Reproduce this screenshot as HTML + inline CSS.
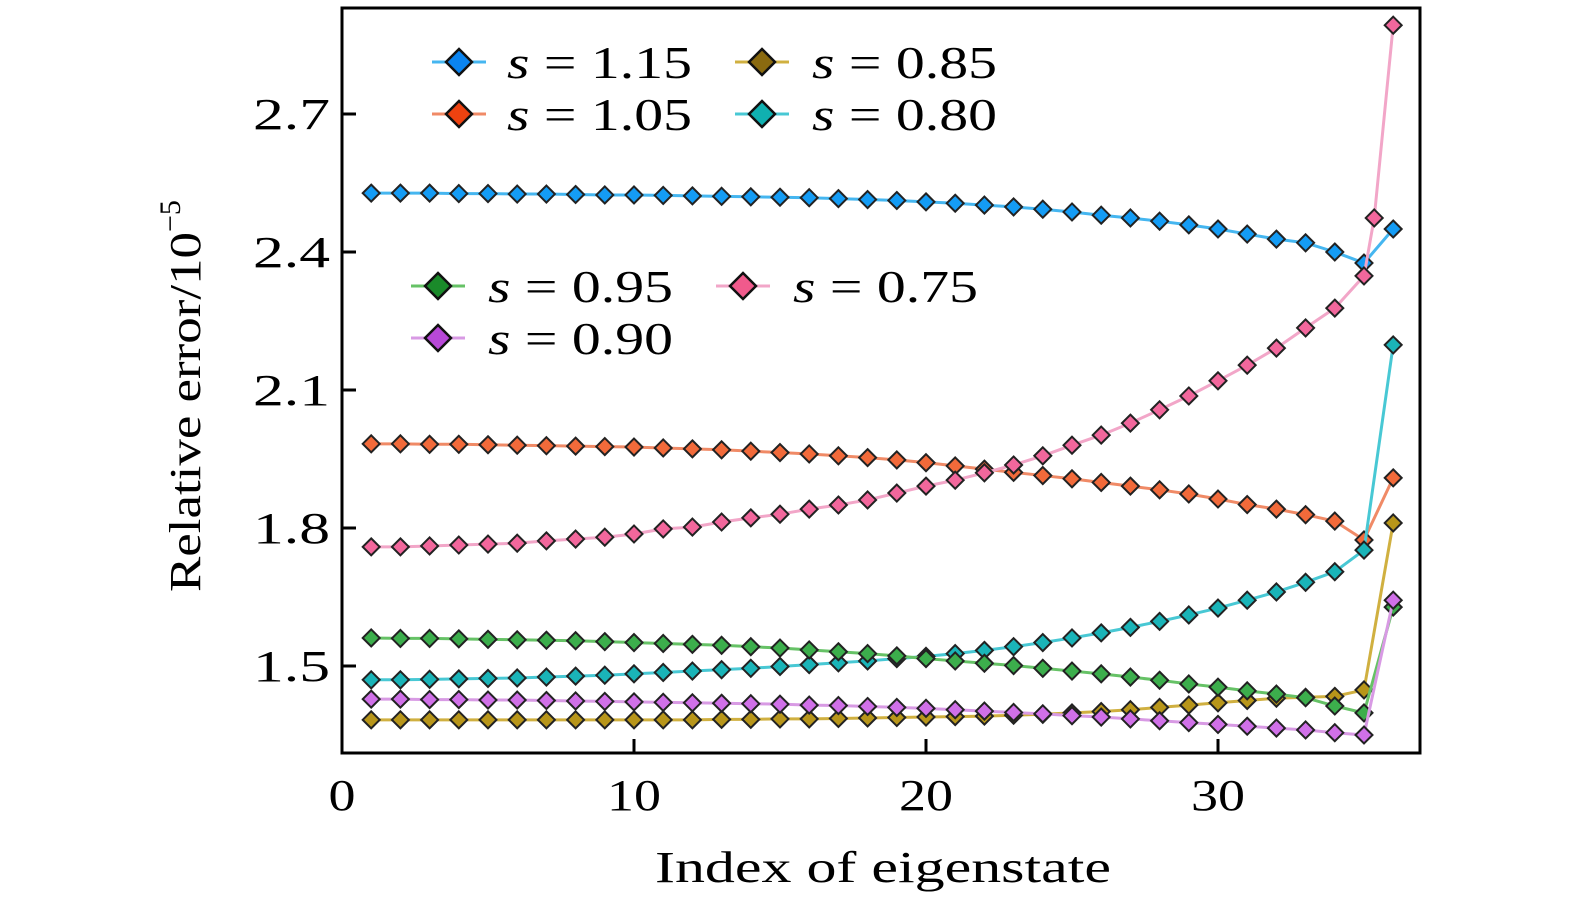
<!DOCTYPE html>
<html><head><meta charset="utf-8"><style>
html,body{margin:0;padding:0;background:#fff;}
svg{display:block;}
text{font-family:"Liberation Serif",serif;fill:#000;}
</style></head><body>
<svg id="chart" width="1575" height="906" xmlns="http://www.w3.org/2000/svg">
<g id="marks"></g>
<rect x="342" y="8" width="1078" height="745" fill="none" stroke="#000" stroke-width="3"/>
<g id="axes"></g>
<text x="655" y="882" font-size="44" textLength="456" lengthAdjust="spacingAndGlyphs">Index of eigenstate</text>
<text transform="translate(200,592) rotate(-90)" font-size="44"><tspan textLength="360" lengthAdjust="spacingAndGlyphs">Relative error/10</tspan><tspan dy="-20" font-size="30">−5</tspan></text>
<g id="legend"></g>
</svg>
<script>
const xTicks=[0,10,20,30];
const yTicks=[1.5,1.8,2.1,2.4,2.7];
const yTickLabels=["1.5","1.8","2.1","2.4","2.7"];
const idx=[1,2,3,4,5,6,7,8,9,10,11,12,13,14,15,16,17,18,19,20,21,22,23,24,25,26,27,28,29,30,31,32,33,34,35,36];
const idxPink=[1,2,3,4,5,6,7,8,9,10,11,12,13,14,15,16,17,18,19,20,21,22,23,24,25,26,27,28,29,30,31,32,33,34,35,35.35,36];
const s115=[2.528,2.528,2.528,2.527,2.527,2.526,2.526,2.525,2.524,2.524,2.523,2.522,2.521,2.520,2.519,2.518,2.516,2.514,2.512,2.509,2.506,2.502,2.498,2.493,2.487,2.480,2.474,2.467,2.459,2.450,2.439,2.428,2.420,2.400,2.376,2.450];
const s105=[1.983,1.983,1.982,1.982,1.981,1.980,1.979,1.978,1.977,1.976,1.974,1.972,1.970,1.967,1.964,1.961,1.957,1.953,1.948,1.942,1.935,1.928,1.921,1.914,1.907,1.899,1.891,1.883,1.874,1.863,1.851,1.841,1.829,1.815,1.774,1.909];
const s085=[1.383,1.383,1.383,1.383,1.383,1.383,1.383,1.383,1.383,1.383,1.383,1.383,1.384,1.384,1.385,1.385,1.386,1.387,1.388,1.389,1.390,1.391,1.393,1.395,1.398,1.401,1.405,1.410,1.415,1.420,1.425,1.430,1.432,1.434,1.448,1.811];
const s080=[1.470,1.470,1.471,1.472,1.473,1.474,1.476,1.478,1.480,1.483,1.486,1.489,1.492,1.495,1.499,1.503,1.507,1.511,1.516,1.521,1.527,1.534,1.542,1.551,1.561,1.572,1.584,1.597,1.611,1.626,1.643,1.661,1.682,1.705,1.752,2.198];
const s095=[1.561,1.560,1.560,1.559,1.558,1.557,1.556,1.555,1.553,1.551,1.549,1.547,1.545,1.542,1.539,1.535,1.531,1.527,1.522,1.516,1.511,1.506,1.501,1.495,1.489,1.483,1.476,1.469,1.461,1.454,1.446,1.439,1.431,1.413,1.398,1.628];
const s090=[1.428,1.428,1.427,1.427,1.426,1.426,1.425,1.424,1.423,1.422,1.421,1.420,1.419,1.418,1.417,1.415,1.414,1.412,1.410,1.408,1.405,1.402,1.399,1.396,1.392,1.389,1.385,1.381,1.377,1.373,1.369,1.365,1.361,1.355,1.350,1.643];
const s075=[1.759,1.759,1.761,1.763,1.765,1.767,1.772,1.776,1.780,1.787,1.798,1.802,1.813,1.822,1.830,1.841,1.850,1.861,1.876,1.891,1.904,1.920,1.937,1.957,1.980,2.002,2.028,2.057,2.087,2.120,2.154,2.191,2.235,2.278,2.348,2.474,2.893];

const NS="http://www.w3.org/2000/svg";
function X(v){return 342+29.2*v;}
function Y(v){return 666-(v-1.5)*460;}
function mk(tag,attrs,parent){const e=document.createElementNS(NS,tag);for(const k in attrs)e.setAttribute(k,attrs[k]);parent.appendChild(e);return e;}
const axes=document.getElementById('axes');
xTicks.forEach(t=>{
  const l=mk('line',{x1:X(t),x2:X(t),y1:753,y2:739,stroke:'#000','stroke-width':3},axes);
  
  
  const s=String(t);
  const w=s.length*27;
  const tx=mk('text',{x:X(t)-w/2,y:810,'font-size':44,textLength:w,lengthAdjust:'spacingAndGlyphs'},axes);
  tx.textContent=s;
  
  
});
yTicks.forEach((t,i)=>{
  const l=mk('line',{x1:342,x2:356,y1:Y(t),y2:Y(t),stroke:'#000','stroke-width':3},axes);
  
  
  const tx=mk('text',{x:253,y:Y(t)+15,'font-size':44,textLength:77,lengthAdjust:'spacingAndGlyphs'},axes);
  tx.textContent=yTickLabels[i];
  
  
});
const series=[
 {n:'s-1.15',xs:idx,v:s115,line:'#45b6f0',fill:'#149cf5',lf:'#0a84f0',lbl:'1.15'},
 {n:'s-1.05',xs:idx,v:s105,line:'#f08a66',fill:'#f26a3a',lf:'#ee4210',lbl:'1.05'},
 {n:'s-0.85',xs:idx,v:s085,line:'#d0b040',fill:'#b8961a',lf:'#8a6a10',lbl:'0.85'},
 {n:'s-0.80',xs:idx,v:s080,line:'#48c8d4',fill:'#1ab4b8',lf:'#10b0b0',lbl:'0.80'},
 {n:'s-0.95',xs:idx,v:s095,line:'#66c266',fill:'#3cae4c',lf:'#1a8a2a',lbl:'0.95'},
 {n:'s-0.90',xs:idx,v:s090,line:'#d89ae4',fill:'#d070e8',lf:'#b848d8',lbl:'0.90'},
 {n:'s-0.75',xs:idxPink,v:s075,line:'#f2a6c8',fill:'#f2679c',lf:'#f05a8c',lbl:'0.75'}
];
const marks=document.getElementById('marks');
function diamond(cx,cy,r){return `M${cx},${cy-r} L${cx+r},${cy} L${cx},${cy+r} L${cx-r},${cy} Z`;}
series.forEach(s=>{
  const g=mk('g',{},marks);
  
  
  const pts=s.v.map((v,i)=>X(s.xs[i])+','+Y(v)).join(' ');
  const pl=mk('polyline',{points:pts,fill:'none',stroke:s.line,'stroke-width':3},g);
  
  
  s.v.forEach((v,i)=>{
    const p=mk('path',{d:diamond(X(s.xs[i]),Y(v),8.5),fill:s.fill,stroke:'#222','stroke-width':2},g);
    
    
  });
});
const legend=document.getElementById('legend');
const legPos=[[459,62,507],[459,114,507],[762,62,812],[762,114,812],[438,286,488],[438,338,488],[743,286,793]];
series.forEach((s,i)=>{
  const [cx,cy,tx]=legPos[i];
  const g=mk('g',{},legend);
  
  
  mk('line',{x1:cx-27,x2:cx+27,y1:cy,y2:cy,stroke:s.line,'stroke-width':3},g);
  mk('path',{d:diamond(cx,cy,13),fill:s.lf,stroke:'#111','stroke-width':2.5},g);
  const t=mk('text',{x:tx,y:cy+16,'font-size':46,textLength:185,lengthAdjust:'spacingAndGlyphs'},g);
  t.innerHTML='<tspan font-style="italic">s</tspan> = '+s.lbl;
});
</script>
</body></html>
